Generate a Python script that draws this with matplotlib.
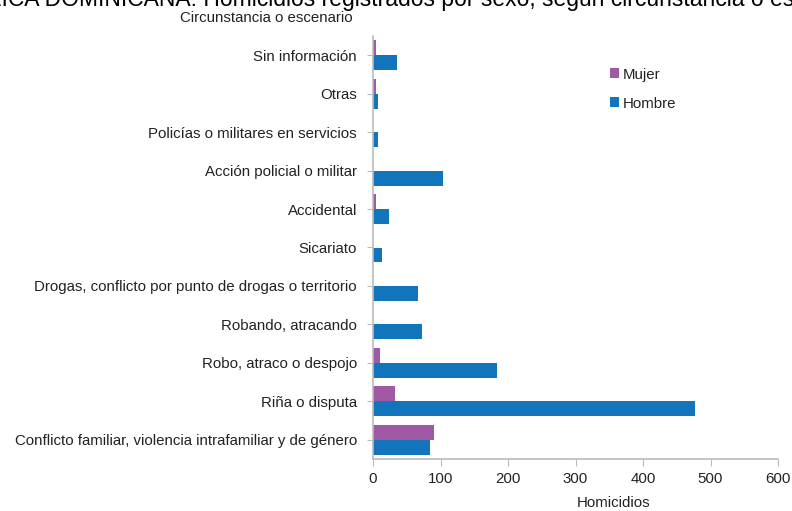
import numpy as np
import matplotlib.pyplot as plt

plt.rcParams['font.family'] = ['Liberation Sans', 'DejaVu Sans']

categorias = ['Conflicto familiar, violencia intrafamiliar y de género',
              'Riña o disputa',
              'Robo, atraco o despojo',
              'Robando, atracando',
              'Drogas, conflicto por punto de drogas o territorio',
              'Sicariato',
              'Accidental',
              'Acción policial o militar',
              'Policías o militares en servicios',
              'Otras',
              'Sin información']
mujer = [90, 33, 11, 0, 0, 0, 5, 0, 0, 4, 4]
hombre = [84, 477, 183, 73, 67, 14, 23, 103, 7, 8, 36]
xticks = [0, 100, 200, 300, 400, 500, 600]

c_mujer = '#A05AA5'
c_hombre = '#1275BC'
gris = '#BBBBBB'
texto = '#222222'
fs = 10.8

fig = plt.figure(figsize=(7.92, 5.11), dpi=100)
ax = fig.add_axes([373/792, 1-459/511, 405/792, 423/511])

y = np.arange(len(categorias))
h = 0.39
ax.barh(y + h/2, mujer, height=h, color=c_mujer, label='Mujer')
ax.barh(y - h/2, hombre, height=h, color=c_hombre, label='Hombre')

ax.set_xlim(0, 600)
ax.set_ylim(-0.5, len(categorias) - 0.5)
ax.set_xticks(xticks)
ax.set_xticklabels([str(v) for v in xticks], fontsize=fs, color=texto)
ax.set_yticks(y)
ax.set_yticklabels(categorias, fontsize=fs, color=texto)
ax.tick_params(axis='x', length=5, color=gris, pad=4)
ax.tick_params(axis='y', length=4, color=gris, pad=7.5)
for s in ['top', 'right']:
    ax.spines[s].set_visible(False)
for s in ['left', 'bottom']:
    ax.spines[s].set_color(gris)
    ax.spines[s].set_linewidth(1.2)

fig.text(180/792, 1-18/511, 'Circunstancia o escenario', fontsize=fs,
         color=texto, va='center', ha='left')
fig.text(614/792, 1-503/511, 'Homicidios', fontsize=fs, color=texto,
         va='center', ha='center')
fig.text(390/792, 1-6/511,
         'REPÚBLICA DOMINICANA: Homicidios registrados por sexo, según circunstancia o escenario',
         fontsize=16.5, color='black', va='baseline', ha='center')

leg = ax.legend(loc='upper left', bbox_to_anchor=(596/792, 1-54/511),
                bbox_transform=fig.transFigure, frameon=False, fontsize=fs,
                handlelength=0.6, handleheight=0.6, handletextpad=0.3,
                labelspacing=1.0)
for t in leg.get_texts():
    t.set_color(texto)

fig.savefig('out.png', dpi=100)
